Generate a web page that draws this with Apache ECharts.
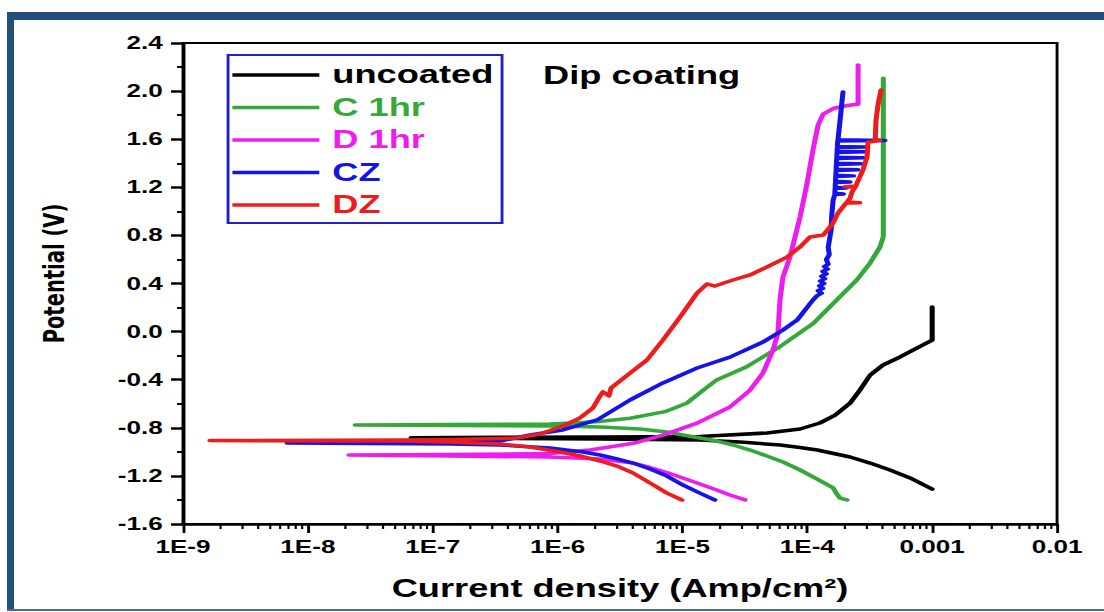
<!DOCTYPE html>
<html>
<head>
<meta charset="utf-8">
<title>Dip coating – potentiodynamic polarization</title>
<script src="https://cdn.jsdelivr.net/npm/echarts@6/dist/echarts.min.js"></script>
<style>
  html, body { margin: 0; padding: 0; background: #fff; width: 1104px; height: 612px; overflow: hidden; position: relative; }
  .frame { position: absolute; background: #21507c; }
  /* the figure is laid out narrow and widened horizontally */
  #chart { position: absolute; left: 0; top: 0; width: 762px; height: 612px; transform-origin: 0 0; transform: scaleX(1.448819); }
</style>
</head>
<body>
<div class="frame" style="left:7px;top:12px;width:1097px;height:8px"></div>
<div class="frame" style="left:7px;top:12px;width:7px;height:599px"></div>
<div class="frame" style="left:7px;top:609px;width:1097px;height:2px;background:#4a6b8c"></div>
<div id="chart"></div>
<script>
// Tafel curves: [current density (A/cm2), potential (V)], scanned from cathodic to anodic
const uncoated = [
  [1.0e-3, -1.31], [6.65e-4, -1.217], [4.59e-4, -1.151], [3.18e-4, -1.093], [2.20e-4, -1.043],
  [1.20e-4, -0.985], [8.75e-5, -0.964], [6.04e-5, -0.943], [2.89e-5, -0.918], [1.38e-5, -0.902],
  [2.19e-6, -0.893], [3.46e-7, -0.889], [6.7e-8, -0.882], [3.46e-7, -0.878], [2.19e-6, -0.876],
  [1.38e-5, -0.872], [4.75e-5, -0.843], [8.75e-5, -0.810], [1.26e-4, -0.760], [1.67e-4, -0.694],
  [2.20e-4, -0.595], [2.64e-4, -0.486], [3.18e-4, -0.362], [4.04e-4, -0.278], [5.53e-4, -0.211],
  [1.0e-3, -0.07], [1.0e-3, 0.205]
];
const c1hr = [
  [2.08e-4, -1.40], [1.83e-4, -1.385], [1.72e-4, -1.35], [1.61e-4, -1.30], [1.20e-4, -1.226],
  [8.75e-5, -1.151], [6.38e-5, -1.084], [4.75e-5, -1.035], [3.48e-5, -0.985], [2.54e-5, -0.943],
  [1.89e-5, -0.910], [1.38e-5, -0.885], [1.01e-5, -0.860], [7.52e-6, -0.835], [4.57e-6, -0.810],
  [2.19e-6, -0.793], [8.69e-7, -0.785], [1.37e-7, -0.781], [2.39e-8, -0.777], [1.37e-7, -0.773],
  [8.69e-7, -0.769], [2.06e-6, -0.749], [3.80e-6, -0.721], [7.24e-6, -0.666], [1.08e-5, -0.596],
  [1.47e-5, -0.486], [1.88e-5, -0.402], [3.27e-5, -0.292], [6.04e-5, -0.125], [1.12e-4, 0.069],
  [1.72e-4, 0.263], [2.49e-4, 0.429], [3.18e-4, 0.570], [3.83e-4, 0.706], [4.06e-4, 0.789],
  [4.06e-4, 2.106]
];
const d1hr = [
  [3.17e-5, -1.40], [2.40e-5, -1.359], [1.88e-5, -1.317], [1.38e-5, -1.267], [1.02e-5, -1.22],
  [7.52e-6, -1.172], [5.50e-6, -1.13], [4.02e-6, -1.093], [2.19e-6, -1.059], [8.69e-7, -1.043],
  [1.37e-7, -1.035], [2.13e-8, -1.026], [1.37e-7, -1.022], [8.69e-7, -1.014], [1.82e-6, -0.985],
  [4.04e-6, -0.929], [6.98e-6, -0.861], [1.31e-5, -0.761], [2.40e-5, -0.627], [3.48e-5, -0.486],
  [4.41e-5, -0.345], [5.31e-5, -0.153], [5.82e-5, -0.012], [6.04e-5, 0.263], [6.38e-5, 0.454],
  [7.26e-5, 0.62], [8.75e-5, 0.953], [9.96e-5, 1.236], [1.11e-4, 1.51], [1.22e-4, 1.718],
  [1.34e-4, 1.809], [1.61e-4, 1.855], [2.00e-4, 1.876], [2.55e-4, 1.893], [2.55e-4, 2.217]
];
const cz = [
  [1.82e-5, -1.40], [1.38e-5, -1.343], [1.01e-5, -1.276], [7.52e-6, -1.201], [5.50e-6, -1.143],
  [4.02e-6, -1.093], [2.99e-6, -1.059], [2.19e-6, -1.026], [1.60e-6, -1.001], [8.69e-7, -0.968],
  [3.46e-7, -0.943], [1.37e-7, -0.935], [6.81e-9, -0.926], [1.37e-7, -0.922], [3.46e-7, -0.91],
  [6.01e-7, -0.86], [1.10e-6, -0.818], [2.07e-6, -0.735], [3.80e-6, -0.569], [6.98e-6, -0.427],
  [1.31e-5, -0.303], [2.40e-5, -0.212], [4.41e-5, -0.087], [6.38e-5, 0.013], [8.28e-5, 0.096],
  [1.11e-4, 0.263], [1.20e-4, 0.30], [1.30e-4, 0.32], [1.22e-4, 0.34], [1.33e-4, 0.36],
  [1.25e-4, 0.38], [1.36e-4, 0.40], [1.27e-4, 0.42], [1.38e-4, 0.44], [1.30e-4, 0.46],
  [1.42e-4, 0.48], [1.33e-4, 0.50], [1.45e-4, 0.52], [1.37e-4, 0.54], [1.47e-4, 0.56],
  [1.42e-4, 0.60], [1.50e-4, 0.64], [1.47e-4, 0.70], [1.55e-4, 0.845], [1.57e-4, 0.97],
  [1.61e-4, 1.094],
  [1.66e-4, 1.14], [1.95e-4, 1.145], [1.66e-4, 1.15],
  [1.67e-4, 1.19], [2.05e-4, 1.195], [1.67e-4, 1.20],
  [1.68e-4, 1.24], [2.20e-4, 1.245], [1.68e-4, 1.25],
  [1.69e-4, 1.29], [2.35e-4, 1.295], [1.69e-4, 1.30],
  [1.70e-4, 1.34], [2.55e-4, 1.345], [1.70e-4, 1.35],
  [1.71e-4, 1.39], [2.70e-4, 1.395], [1.71e-4, 1.40],
  [1.72e-4, 1.44], [2.85e-4, 1.445], [1.72e-4, 1.45],
  [1.73e-4, 1.49], [2.95e-4, 1.495], [1.73e-4, 1.50],
  [1.74e-4, 1.53], [2.90e-4, 1.535], [1.74e-4, 1.54],
  [1.75e-4, 1.585], [4.19e-4, 1.59], [1.76e-4, 1.595],
  [1.83e-4, 1.759], [1.90e-4, 1.926], [1.93e-4, 1.992]
];
const dz = [
  [9.91e-6, -1.40], [7.52e-6, -1.343], [5.50e-6, -1.259], [4.02e-6, -1.176], [2.99e-6, -1.118],
  [2.19e-6, -1.076], [1.60e-6, -1.039], [1.04e-6, -1.001], [6.01e-7, -0.96], [3.46e-7, -0.935],
  [1.37e-7, -0.918], [5.47e-8, -0.91], [1.64e-9, -0.906], [5.47e-8, -0.901], [1.37e-7, -0.897],
  [4.73e-7, -0.885], [7.23e-7, -0.852], [1.10e-6, -0.785], [1.51e-6, -0.718], [1.92e-6, -0.635],
  [2.19e-6, -0.535], [2.31e-6, -0.501], [2.58e-6, -0.535], [2.68e-6, -0.469], [3.80e-6, -0.345],
  [5.20e-6, -0.236], [6.98e-6, -0.07], [9.57e-6, 0.121], [1.31e-5, 0.321], [1.57e-5, 0.396],
  [1.82e-5, 0.379], [2.54e-5, 0.429], [3.48e-5, 0.471], [4.75e-5, 0.537], [6.87e-5, 0.62],
  [8.75e-5, 0.704], [1.05e-4, 0.787], [1.34e-4, 0.803], [1.61e-4, 0.903], [1.76e-4, 0.986],
  [2.05e-4, 1.07], [2.64e-4, 1.072], [2.08e-4, 1.078], [2.20e-4, 1.11], [2.28e-4, 1.161],
  [2.41e-4, 1.20], [2.00e-4, 1.205], [2.45e-4, 1.21], [2.50e-4, 1.235], [2.79e-4, 1.344],
  [3.01e-4, 1.452], [3.06e-4, 1.575], [3.82e-4, 1.59], [3.50e-4, 1.598], [3.55e-4, 1.759],
  [3.68e-4, 1.884], [3.89e-4, 2.009]
];

const seriesNames = ['uncoated', 'C 1hr', 'D 1hr', 'CZ', 'DZ'];
const xTickLabels = ['1E-9', '1E-8', '1E-7', '1E-6', '1E-5', '1E-4', '0.001', '0.01'];
const xDecades = [-9, -8, -7, -6, -5, -4, -3];
const minorMultipliers = [2, 3, 4, 5, 6, 7, 8, 9];

const colors = ['#000000', '#35a83a', '#ee1cee', '#1414e8', '#ee1c1c'];
const FONT = '"Liberation Sans", Arial, sans-serif';

// log-spaced minor tick positions along the current-density axis
const xMinorTicks = [];
xDecades.forEach(e => minorMultipliers.forEach(m => xMinorTicks.push([m * Math.pow(10, e), -1.6])));

const chart = echarts.init(document.getElementById('chart'), null, { renderer: 'svg' });

const curveSeries = [uncoated, c1hr, d1hr, cz, dz].map((data, i) => ({
  name: seriesNames[i],
  type: 'line',
  data: data,
  symbol: 'none',
  showSymbol: false,
  smooth: false,
  lineStyle: { color: colors[i], width: 3.5, join: 'round', cap: 'round' },
  itemStyle: { color: colors[i] },
  z: 2 + i
}));

chart.setOption({
  animation: false,
  backgroundColor: 'transparent',
  title: {
    text: 'Dip coating',
    left: 374.8,
    top: 63,
    padding: 0,
    textStyle: { fontFamily: FONT, fontSize: 25, fontWeight: 'bold', color: '#000' }
  },
  legend: {
    orient: 'vertical',
    left: 157.4,
    top: 55,
    padding: [7.5, 6, 5.5, 3],
    itemGap: 7.5,
    itemWidth: 60,
    itemHeight: 3.5,
    icon: 'rect',
    borderColor: '#2020d0',
    borderWidth: 2,
    borderRadius: 0,
    backgroundColor: '#fff',
    selectedMode: false,
    textStyle: { fontFamily: FONT, fontSize: 25, fontWeight: 'bold', lineHeight: 25, padding: [0, 0, 0, 4] },
    data: seriesNames.map((n, i) => ({ name: n, itemStyle: { color: colors[i] }, textStyle: { color: colors[i] } }))
  },
  grid: {
    left: 126.3,
    right: 32.4,
    top: 43,
    bottom: 88,
    containLabel: false,
    outerBoundsMode: 'none',
    show: true,
    borderColor: '#000',
    borderWidth: 2,
    backgroundColor: 'transparent'
  },
  xAxis: {
    type: 'log',
    logBase: 10,
    min: 1e-9,
    max: 1e-2,
    splitNumber: 7,
    name: 'Current density (Amp/cm²)',
    nameLocation: 'middle',
    nameGap: 52,
    nameTextStyle: { fontFamily: FONT, fontSize: 25, fontWeight: 'bold', color: '#000' },
    axisLine: { show: true, onZero: false, lineStyle: { color: '#000', width: 2.5 } },
    axisTick: { show: true, inside: false, length: 9, lineStyle: { color: '#000', width: 2 } },
    minorTick: { show: false },
    splitLine: { show: false },
    axisLabel: {
      margin: 14,
      fontFamily: FONT,
      fontSize: 18,
      fontWeight: 'bold',
      color: '#000',
      formatter: v => xTickLabels[Math.round(Math.log10(v)) + 9]
    }
  },
  yAxis: {
    type: 'value',
    min: -1.6,
    max: 2.4,
    interval: 0.4,
    name: 'Potential (V)',
    nameLocation: 'middle',
    nameRotate: 90,
    nameGap: 79,
    nameTextStyle: { fontFamily: '"DejaVu Sans", sans-serif', fontSize: 19.5, fontWeight: 'bold', color: '#000', padding: [0, 0, 0, 20] },
    axisLine: { show: true, onZero: false, lineStyle: { color: '#000', width: 2 } },
    axisTick: { show: true, inside: false, length: 8.3, lineStyle: { color: '#000', width: 2.5 } },
    minorTick: { show: true, splitNumber: 2, length: 4.1, lineStyle: { color: '#000', width: 2 } },
    splitLine: { show: false },
    axisLabel: {
      margin: 14,
      fontFamily: FONT,
      fontSize: 18,
      fontWeight: 'bold',
      color: '#000',
      formatter: v => v.toFixed(1)
    }
  },
  series: curveSeries.concat([{
    name: 'minor ticks',
    type: 'custom',
    silent: true,
    clip: false,
    z: 10,
    data: xMinorTicks,
    renderItem: (params, api) => {
      const p = api.coord([api.value(0), api.value(1)]);
      return {
        type: 'line',
        shape: { x1: p[0], y1: p[1], x2: p[0], y2: p[1] + 5 },
        style: { stroke: '#000', lineWidth: 1.5 }
      };
    }
  }])
});
</script>
</body>
</html>
